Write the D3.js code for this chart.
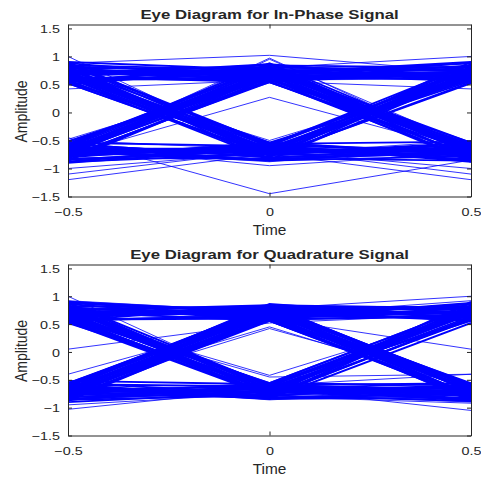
<!DOCTYPE html>
<html>
<head>
<meta charset="utf-8">
<script src="https://cdn.jsdelivr.net/npm/d3@7"></script>
<style>
  html, body { margin: 0; padding: 0; background: #fff; }
  svg { display: block; }
  text { font-family: "Liberation Sans", Arial, Helvetica, sans-serif; fill: #262626; }
</style>
</head>
<body>
<div id="chart"></div>
<script>
// sample instants of one trace (one symbol period)
const times = [-0.5, 0, 0.5];
const xTicks = [-0.5, 0, 0.5];
const yTicks = [-1.5, -1, -0.5, 0, 0.5, 1, 1.5];

// in-phase traces: value at t = -0.5, 0, 0.5
const iTraces = [
  [0.74, 0.64, 0.70], [0.56, 0.82, -0.66], [0.86, -0.58, 0.78], [0.52, -0.74, -0.62],
  [-0.72, 0.58, 0.84], [-0.62, 0.78, -0.54], [-0.84, -0.66, 0.60], [-0.56, -0.80, -0.74],
  [0.66, 0.86, 0.56], [0.80, 0.56, -0.84], [0.58, -0.84, 0.66], [0.90, -0.62, -0.78],
  [-0.52, 0.70, 0.88], [-0.78, 0.54, -0.70], [-0.88, -0.56, 0.74], [-0.66, -0.72, -0.58],
  [0.54, 0.74, 0.82], [0.72, 0.60, -0.56], [0.78, -0.54, 0.58], [0.62, -0.82, -0.86],
  [-0.60, 0.84, 0.64], [-0.86, 0.66, -0.80], [-0.74, -0.78, 0.52], [-0.54, -0.60, -0.66],
  [0.82, 0.70, 0.90], [0.50, 0.80, -0.74], [0.70, -0.70, 0.86], [0.88, -0.56, -0.52],
  [-0.80, 0.56, 0.72], [-0.60, 0.88, -0.62], [-0.70, -0.86, 0.80], [-0.90, -0.64, -0.84],
  [0.60, 0.58, 0.74], [0.84, 0.76, -0.60], [0.54, -0.64, 0.62], [0.74, -0.76, -0.72],
  [-0.64, 0.68, 0.56], [-0.52, 0.60, -0.88], [-0.76, -0.58, 0.86], [-0.82, -0.82, -0.56],
  [0.90, 0.76, 0.64], [0.64, 0.54, -0.76], [0.78, -0.78, 0.54], [0.56, -0.66, -0.80],
  [-0.58, 0.80, 0.76], [-0.74, 0.72, -0.64], [-0.64, -0.74, 0.68], [-0.80, -0.54, -0.76],
  [0.70, 0.84, 0.80], [0.76, 0.66, -0.86], [0.66, -0.60, 0.80], [0.82, -0.86, -0.60],
  [-0.86, 0.62, 0.80], [-0.56, 0.82, -0.74], [-0.62, -0.70, 0.70], [-0.70, -0.84, -0.70],
  [0.58, 0.62, 0.60], [0.88, 0.58, -0.64], [0.62, -0.72, 0.90], [0.72, -0.58, -0.88],
  [-0.66, 0.74, 0.58], [-0.80, 0.58, -0.60], [-0.56, -0.80, 0.82], [-0.88, -0.74, -0.54],
  [0.78, 0.80, 0.76], [0.56, 0.86, -0.70], [0.86, -0.68, 0.70], [0.66, -0.54, -0.74],
  [-0.74, 0.64, 0.88], [-0.66, 0.78, -0.82], [-0.78, -0.62, 0.56], [-0.60, -0.86, -0.78],
  [0.76, 0.56, 0.68], [0.68, 0.70, -0.54], [0.52, -0.76, 0.72], [0.80, -0.72, -0.66],
  [-0.76, 0.76, 0.74], [-0.64, 0.62, -0.78], [-0.84, -0.68, 0.64], [-0.72, -0.60, -0.86],
  [0.68, 0.72, 0.62], [0.60, 0.66, -0.68], [0.72, -0.66, 0.76], [0.64, -0.68, -0.64],
  [-0.68, 0.66, 0.66], [-0.72, 0.70, -0.72], [-0.66, -0.64, 0.72], [-0.68, -0.68, -0.68],
  [0.70, 0.68, 0.72], [0.74, 0.74, -0.70], [0.68, -0.74, 0.64], [0.70, -0.64, -0.70],
  [-0.70, 0.72, 0.70], [-0.66, 0.66, -0.66], [-0.72, -0.70, 0.66], [-0.64, -0.66, -0.72]
];

// in-phase stray traces
const iStray = [
  [0.88, 1.02, 0.72], [0.72, 0.80, 1.00], [1.00, -0.70, -0.66], [-0.70, 0.97, -0.68],
  [-0.72, 0.95, -0.60], [-0.76, 0.27, -0.70], [-0.62, 0.53, -0.64], [0.42, 0.58, 0.60],
  [0.62, -0.50, 0.60], [-0.60, -0.95, -0.72], [-0.66, -0.88, -0.58], [-0.45, -1.45, -0.85],
  [-1.00, -0.72, -0.62], [-1.10, -0.68, -1.00], [-1.20, -0.74, -1.20], [-0.50, -0.66, -1.10],
  [0.68, 0.56, 0.42], [0.70, -0.74, -0.50], [-0.48, 0.62, 0.66]
];

// quadrature traces: value at t = -0.5, 0, 0.5
const qTraces = [
  [0.72, 0.76, 0.62], [0.58, 0.64, -0.76], [0.82, -0.62, 0.74], [0.62, -0.56, -0.60],
  [-0.76, 0.60, 0.86], [-0.56, 0.72, -0.62], [-0.80, -0.76, 0.58], [-0.62, -0.84, -0.72],
  [0.60, 0.82, 0.76], [0.86, 0.58, -0.80], [0.54, -0.80, 0.60], [0.88, -0.72, -0.84],
  [-0.58, 0.80, 0.80], [-0.84, 0.56, -0.76], [-0.86, -0.60, 0.78], [-0.72, -0.66, -0.56],
  [0.80, 0.62, 0.86], [0.66, 0.74, -0.56], [0.76, -0.58, 0.56], [0.56, -0.78, -0.88],
  [-0.66, 0.86, 0.60], [-0.88, 0.70, -0.78], [-0.60, -0.80, 0.62], [-0.52, -0.58, -0.80],
  [0.90, 0.72, 0.82], [0.56, 0.84, -0.64], [0.62, -0.76, 0.88], [0.80, -0.60, -0.56],
  [-0.78, 0.58, 0.64], [-0.58, 0.82, -0.60], [-0.64, -0.82, 0.84], [-0.90, -0.72, -0.78],
  [0.58, 0.60, 0.74], [0.82, 0.78, -0.62], [0.60, -0.70, 0.64], [0.78, -0.82, -0.74],
  [-0.60, 0.76, 0.56], [-0.74, 0.62, -0.86], [-0.76, -0.56, 0.82], [-0.86, -0.78, -0.62],
  [0.88, 0.70, 0.58], [0.72, 0.56, -0.82], [0.84, -0.84, 0.52], [0.52, -0.64, -0.74],
  [-0.56, 0.78, 0.76], [-0.78, 0.66, -0.58], [-0.58, -0.62, 0.74], [-0.82, -0.60, -0.84],
  [0.74, 0.84, 0.78], [0.78, 0.68, -0.88], [0.68, -0.56, 0.82], [0.84, -0.78, -0.62],
  [-0.88, 0.62, 0.78], [-0.62, 0.84, -0.72], [-0.56, -0.74, 0.76], [-0.74, -0.82, -0.76],
  [0.56, 0.66, 0.62], [0.90, 0.60, -0.60], [0.64, -0.78, 0.90], [0.74, -0.62, -0.86],
  [-0.62, 0.72, 0.56], [-0.82, 0.58, -0.64], [-0.58, -0.84, 0.80], [-0.84, -0.70, -0.60],
  [0.76, 0.82, 0.80], [0.62, 0.78, -0.78], [0.88, -0.60, 0.70], [0.64, -0.58, -0.72],
  [-0.72, 0.60, 0.88], [-0.60, 0.76, -0.80], [-0.78, -0.64, 0.60], [-0.66, -0.84, -0.82],
  [0.80, 0.58, 0.66], [0.62, 0.80, -0.58], [0.58, -0.74, 0.76], [0.82, -0.66, -0.64],
  [-0.80, 0.78, 0.68], [-0.66, 0.56, -0.80], [-0.86, -0.58, 0.70], [-0.68, -0.62, -0.88],
  [0.70, 0.70, 0.68], [0.66, 0.70, -0.70], [0.70, -0.70, 0.72], [0.68, -0.70, -0.68],
  [-0.70, 0.68, 0.70], [-0.68, 0.70, -0.70], [-0.70, -0.68, 0.68], [-0.70, -0.72, -0.70],
  [0.72, 0.66, 0.70], [0.68, 0.72, -0.66], [0.66, -0.66, 0.68], [0.72, -0.72, -0.72],
  [-0.66, 0.72, 0.72], [-0.70, 0.64, -0.68], [-0.68, -0.72, 0.70], [-0.72, -0.66, -0.66]
];

// quadrature stray traces
const qStray = [
  [1.00, -0.66, -0.70], [0.92, 0.72, 0.70], [0.05, 0.52, 0.68], [-0.40, 0.60, 0.64],
  [-0.86, -0.70, -0.62], [-0.95, -0.74, -0.90], [-1.03, -0.66, -1.05], [-0.70, 0.85, 0.72],
  [0.68, 0.84, -0.60], [-0.62, 0.45, -0.66], [-0.70, 0.42, -0.58], [0.64, -0.42, 0.70],
  [0.58, -0.45, -0.40], [-0.62, -0.86, -0.70], [0.70, 0.78, 1.00], [0.72, 0.66, 0.92],
  [0.68, 0.60, 0.05], [-0.72, -0.60, -0.40], [-0.70, -0.80, -0.92]
];

const width = 481, height = 477;
const axisColor = '#262626';
const traceColor = '#0000ff';

const svg = d3.select('#chart')
  .append('svg')
  .attr('width', width)
  .attr('height', height);

// one eye diagram panel
function drawPanel(cfg) {
  const x = d3.scaleLinear().domain([-0.5, 0.5]).range([68, 471]);
  const y = d3.scaleLinear().domain([-1.5, 1.57]).range([cfg.bottom, cfg.top]);
  const g = svg.append('g');

  const clipId = 'clip-' + cfg.id;
  g.append('clipPath').attr('id', clipId)
    .append('rect')
    .attr('x', x.range()[0]).attr('y', cfg.top)
    .attr('width', x.range()[1] - x.range()[0])
    .attr('height', cfg.bottom - cfg.top);

  const line = d3.line()
    .x((d, i) => x(times[i]))
    .y(d => y(d));

  // bulk traces drawn wider so the bands fill in
  const plot = g.append('g').attr('clip-path', `url(#${clipId})`);
  plot.selectAll('path.bulk')
    .data(cfg.traces)
    .enter()
    .append('path')
    .attr('class', 'bulk')
    .attr('d', line)
    .attr('fill', 'none')
    .attr('stroke', traceColor)
    .attr('stroke-width', 1.9);

  plot.selectAll('path.stray')
    .data(cfg.stray)
    .enter()
    .append('path')
    .attr('class', 'stray')
    .attr('d', line)
    .attr('fill', 'none')
    .attr('stroke', traceColor)
    .attr('stroke-width', 1)
    .attr('stroke-opacity', 0.8);

  // axes with inward ticks, box style
  const xAxis = d3.axisBottom(x).tickValues(xTicks).tickSizeInner(-4).tickSizeOuter(0)
    .tickFormat(d3.format('~g'));
  const yAxis = d3.axisLeft(y).tickValues(yTicks).tickSizeInner(-4).tickSizeOuter(0)
    .tickFormat(d3.format('~g'));

  const gx = g.append('g').attr('transform', `translate(0,${cfg.bottom})`).call(xAxis);
  const gy = g.append('g').attr('transform', `translate(${x.range()[0]},0)`).call(yAxis);
  g.append('g').attr('transform', `translate(0,${cfg.top})`)
    .call(d3.axisTop(x).tickValues(xTicks).tickSizeInner(-4).tickSizeOuter(0).tickFormat(''));
  g.append('g').attr('transform', `translate(${x.range()[1]},0)`)
    .call(d3.axisRight(y).tickValues(yTicks).tickSizeInner(-4).tickSizeOuter(0).tickFormat(''));

  g.selectAll('.domain').attr('stroke', axisColor).attr('stroke-width', 1);
  g.selectAll('.tick line').attr('stroke', axisColor);

  // stretched tick labels like the reference
  gx.selectAll('.tick text')
    .attr('y', 0).attr('dy', 0)
    .attr('transform', `translate(0,19) scale(1.25,1)`)
    .style('font-size', '11.5px')
    .attr('fill', axisColor);
  gy.selectAll('.tick text')
    .attr('x', 0).attr('dy', '0.36em')
    .attr('transform', 'translate(-8,0) scale(1.25,1)')
    .style('font-size', '11.5px')
    .attr('fill', axisColor);

  g.selectAll('.tick text').style('font-family', '"Liberation Sans", Arial, sans-serif');

  // title
  g.append('text')
    .attr('transform', `translate(269.5,${cfg.top - 5.5}) scale(1.4,1)`)
    .attr('text-anchor', 'middle')
    .style('font-size', '12px')
    .style('font-weight', 'bold')
    .attr('fill', '#000')
    .text(cfg.title);

  // x label
  g.append('text')
    .attr('transform', `translate(269.5,${cfg.bottom + 38.5}) scale(1.1,1)`)
    .attr('text-anchor', 'middle')
    .style('font-size', '14px')
    .attr('fill', axisColor)
    .text('Time');

  // y label
  g.append('text')
    .attr('transform', `translate(27,${(cfg.top + cfg.bottom) / 2 + 1}) scale(1.2,1) rotate(-90)`)
    .attr('text-anchor', 'middle')
    .style('font-size', '14px')
    .attr('fill', axisColor)
    .text('Amplitude');
}

drawPanel({
  id: 'i',
  top: 24.5,
  bottom: 196.5,
  title: 'Eye Diagram for In-Phase Signal',
  traces: iTraces,
  stray: iStray
});

drawPanel({
  id: 'q',
  top: 264.5,
  bottom: 435.5,
  title: 'Eye Diagram for Quadrature Signal',
  traces: qTraces,
  stray: qStray
});
</script>
</body>
</html>
